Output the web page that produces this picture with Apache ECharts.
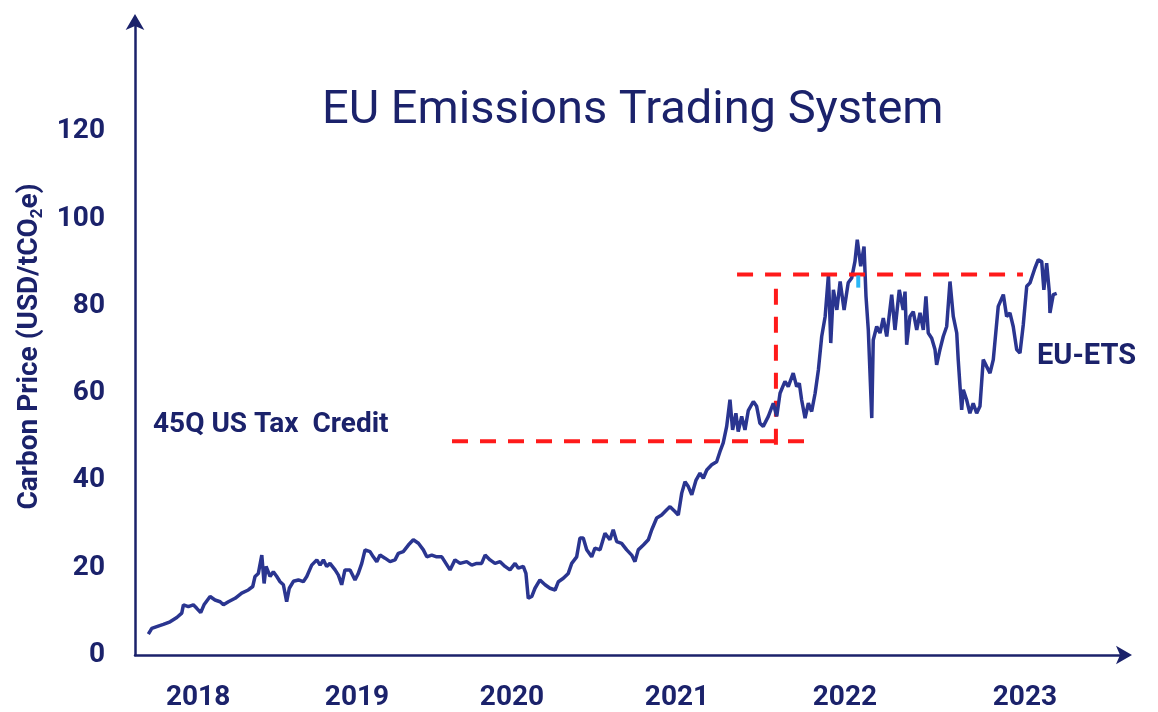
<!DOCTYPE html>
<html>
<head>
<meta charset="utf-8">
<script src="https://cdn.jsdelivr.net/npm/echarts@6/dist/echarts.min.js"></script>
<style>
  html, body { margin: 0; padding: 0; background: #fff; }
  #chart { width: 1158px; height: 712px; }
</style>
</head>
<body>
<div id="chart"></div>
<script>
  // EU-ETS price, decimal year -> USD/tCO2e
  var etsDates = [
    2017.743,2017.764,2017.794,2017.834,2017.875,2017.916,2017.946,2017.956,2017.986,
    2018.016,2018.037,2018.061,2018.081,2018.118,2018.148,2018.179,2018.199,2018.229,2018.270,
    2018.310,2018.350,2018.377,2018.391,2018.411,2018.432,2018.446,2018.458,2018.482,2018.502,
    2018.523,2018.543,2018.563,2018.583,2018.599,2018.624,2018.654,
    2018.684,2018.705,2018.735,2018.766,2018.786,2018.806,2018.826,2018.846,2018.877,2018.897,
    2018.917,2018.937,2018.968,2018.998,
    2019.018,2019.039,2019.059,2019.089,2019.109,2019.130,2019.150,2019.180,2019.211,2019.241,
    2019.261,2019.291,2019.322,2019.352,2019.383,2019.413,2019.434,2019.464,2019.494,2019.525,
    2019.575,2019.605,2019.636,2019.676,2019.707,2019.737,2019.767,2019.788,2019.818,2019.848,
    2019.879,2019.909,2019.939,2019.970,2019.990,
    2020.020,2020.036,2020.050,2020.071,2020.091,2020.121,2020.152,2020.182,2020.213,2020.233,
    2020.263,2020.293,2020.314,2020.344,2020.364,2020.384,2020.405,2020.435,2020.455,2020.486,
    2020.516,2020.546,2020.566,2020.587,2020.617,2020.648,2020.678,2020.698,2020.718,2020.749,
    2020.779,2020.800,2020.830,2020.860,2020.891,2020.911,2020.941,2020.961,2020.982,
    2021.002,2021.022,2021.043,2021.069,2021.093,2021.113,2021.134,2021.164,2021.194,2021.214,
    2021.234,2021.255,2021.275,2021.291,2021.311,2021.325,2021.346,2021.366,2021.386,
    2021.417,2021.437,2021.457,2021.477,2021.508,2021.538,2021.559,2021.579,2021.609,2021.629,
    2021.659,2021.680,2021.696,2021.710,2021.731,2021.751,2021.771,2021.792,2021.812,2021.832,
    2021.853,2021.873,2021.887,2021.903,2021.924,2021.944,2021.968,2021.993,
    2022.014,2022.034,2022.048,2022.069,2022.089,2022.101,2022.115,2022.136,2022.145,2022.166,
    2022.186,2022.206,2022.227,2022.257,2022.277,2022.303,
    2022.327,2022.338,2022.348,2022.368,2022.388,2022.409,2022.429,2022.449,2022.465,2022.479,
    2022.500,2022.520,2022.530,2022.550,2022.570,2022.591,2022.611,2022.631,2022.652,2022.661,
    2022.672,2022.682,2022.692,2022.712,2022.732,2022.752,2022.773,2022.793,2022.813,2022.834,
    2022.854,2022.874,2022.904,2022.935,2022.955,2022.975,2022.995,
    2023.016,2023.036,2023.056,2023.077,2023.097,2023.127,2023.147,2023.168,2023.181,2023.198,
    2023.214,2023.218,2023.238,2023.259
  ];
  var etsPrices = [
    4.8,6.1,6.5,7.0,7.6,8.6,9.6,11.5,11.1,
    11.5,10.7,9.7,11.5,13.4,12.6,12.2,11.5,12.2,13.0,
    14.2,14.9,15.7,18.0,18.7,22.9,16.4,20.3,18.0,19.1,
    18.0,16.8,16.1,12.2,15.3,16.9,17.2,
    16.8,18.0,20.6,21.8,20.6,21.8,20.3,21.0,19.5,18.3,
    16.1,19.5,19.5,17.2,
    18.7,21.0,24.1,23.7,22.5,21.4,22.9,22.2,21.4,21.8,
    23.3,23.7,25.2,26.4,25.6,24.1,22.5,22.9,22.5,22.5,
    19.5,21.8,21.0,21.4,20.6,21.0,21.0,22.9,21.8,21.0,
    21.4,20.3,19.5,21.0,19.9,
    20.3,18.7,13.0,13.4,15.3,17.2,16.1,15.3,14.9,16.8,
    17.6,18.7,21.0,22.5,26.8,26.8,24.1,22.5,24.5,24.1,
    27.9,26.4,28.7,26.0,25.6,24.1,22.9,21.4,24.1,25.2,
    26.4,28.7,31.4,32.1,33.3,34.0,32.9,32.1,37.1,
    39.7,38.6,36.7,40.1,41.7,40.5,42.4,43.6,44.3,46.6,
    48.6,52.4,58.5,51.6,55.4,51.2,54.7,51.6,56.0,
    58.1,57.0,53.1,52.4,54.7,57.7,54.7,60.0,62.7,61.5,
    64.6,61.5,62.3,58.5,54.3,57.7,55.8,60.0,65.4,73.0,
    77.6,87.2,71.5,83.7,79.1,85.6,79.1,85.3,
    86.4,90.2,95.2,89.1,93.6,82.2,74.5,54.3,72.2,75.3,
    73.8,77.2,73.0,82.6,74.5,83.7,
    79.1,83.3,71.1,77.6,78.7,74.5,78.4,74.5,82.2,73.8,
    72.6,70.0,66.5,70.0,73.0,75.3,85.6,77.6,73.8,67.7,
    61.5,56.2,60.8,58.5,55.4,57.7,55.4,57.0,67.7,66.1,
    64.6,67.7,79.9,82.6,77.6,78.4,75.3,
    70.0,69.2,75.7,84.5,85.3,88.7,90.6,90.2,83.7,89.8,
    83.3,78.4,82.6,82.9
  ];

  // x axis: year labels and where they sit (decimal year)
  var yearLabels = ['2018', '2019', '2020', '2021', '2022', '2023'];
  var yearLabelPos = [2018.045, 2019.010, 2019.951, 2020.953, 2021.973, 2023.066];
  var yTickLabels = [0, 20, 40, 60, 80, 100, 120];

  // red dashed guide lines (decimal year, price)
  var taxCreditDates = [2019.587, 2021.797];
  var taxCreditValues = [49, 49];
  var crossDates = [2021.554, 2021.554];
  var crossValues = [48.2, 86.7];
  var peakDates = [2021.318, 2023.054];
  var peakValues = [87.2, 87.2];
  // small cyan marker near the 2022 peak
  var cyanDates = [2022.054, 2022.054];
  var cyanValues = [87.0, 84.2];

  var navy = '#1b226b';

  function zip(a, b) {
    var out = [];
    for (var i = 0; i < Math.min(a.length, b.length); i++) out.push([a[i], b[i]]);
    return out;
  }

  var myChart = echarts.init(document.getElementById('chart'));

  myChart.setOption({
    animation: false,
    title: {
      text: 'EU Emissions Trading System',
      left: 322,
      top: 88,
      padding: 0,
      textStyle: {
        fontFamily: 'Roboto',
        fontSize: 47,
        fontWeight: 'normal',
        color: navy
      }
    },
    grid: {
      left: 135,
      right: 30,
      top: 18,
      bottom: 57
    },
    xAxis: {
      type: 'value',
      min: 2017.662,
      max: 2023.692,
      axisLine: {
        show: true,
        symbol: ['none', 'arrow'],
        symbolSize: [14, 16],
        symbolOffset: [0, 4],
        lineStyle: { color: navy, width: 2.5 }
      },
      axisTick: { show: false },
      splitLine: { show: false },
      axisLabel: {
        customValues: yearLabelPos,
        formatter: function (v) {
          var i = yearLabelPos.indexOf(v);
          return i >= 0 ? yearLabels[i] : '';
        },
        margin: 29,
        fontFamily: 'Roboto',
        fontSize: 28,
        fontWeight: 'bold',
        color: navy
      }
    },
    yAxis: {
      type: 'value',
      min: 0,
      max: 146,
      interval: 20,
      name: 'Carbon Price (USD/tCO{s|2}e)',
      nameLocation: 'middle',
      nameGap: 86,
      nameTextStyle: {
        fontFamily: 'Roboto',
        fontSize: 28,
        fontWeight: 'bold',
        color: navy,
        padding: [0, 20, 0, 0],
        rich: {
          s: {
            fontFamily: 'Roboto',
            fontSize: 17,
            fontWeight: 'bold',
            color: navy,
            verticalAlign: 'bottom',
            padding: [14, 0, 0, 0]
          }
        }
      },
      axisLine: {
        show: true,
        symbol: ['none', 'arrow'],
        symbolSize: [14, 16],
        symbolOffset: [0, 4],
        lineStyle: { color: navy, width: 2.5 }
      },
      axisTick: { show: false },
      splitLine: { show: false },
      axisLabel: {
        formatter: function (v) {
          return yTickLabels.indexOf(v) >= 0 ? String(v) : '';
        },
        margin: 30,
        fontFamily: 'Roboto',
        fontSize: 28,
        fontWeight: 'bold',
        color: navy
      }
    },
    graphic: [
      {
        type: 'text',
        left: 153,
        top: 411,
        style: {
          text: '45Q US Tax  Credit',
          font: 'bold 28px Roboto',
          fill: navy
        }
      },
      {
        type: 'text',
        left: 1037,
        top: 342,
        style: {
          text: 'EU-ETS',
          font: 'bold 29px Roboto',
          fill: navy
        }
      }
    ],
    series: [
      {
        name: 'EU-ETS',
        type: 'line',
        data: zip(etsDates, etsPrices),
        showSymbol: false,
        lineStyle: { color: '#2a3590', width: 3.5 },
        z: 3
      },
      {
        name: '45Q',
        type: 'line',
        data: zip(taxCreditDates, taxCreditValues),
        showSymbol: false,
        lineStyle: { color: '#ff1a1a', width: 4, type: [16, 12] },
        z: 2
      },
      {
        name: 'cross',
        type: 'line',
        data: zip(crossDates, crossValues),
        showSymbol: false,
        lineStyle: { color: '#ff1a1a', width: 4, type: [16, 12] },
        z: 2
      },
      {
        name: 'peak',
        type: 'line',
        data: zip(peakDates, peakValues),
        showSymbol: false,
        lineStyle: { color: '#ff1a1a', width: 4, type: [16, 12] },
        z: 4
      },
      {
        name: 'marker',
        type: 'line',
        data: zip(cyanDates, cyanValues),
        showSymbol: false,
        lineStyle: { color: '#29b6f6', width: 4 },
        z: 5
      }
    ]
  });
</script>
</body>
</html>
